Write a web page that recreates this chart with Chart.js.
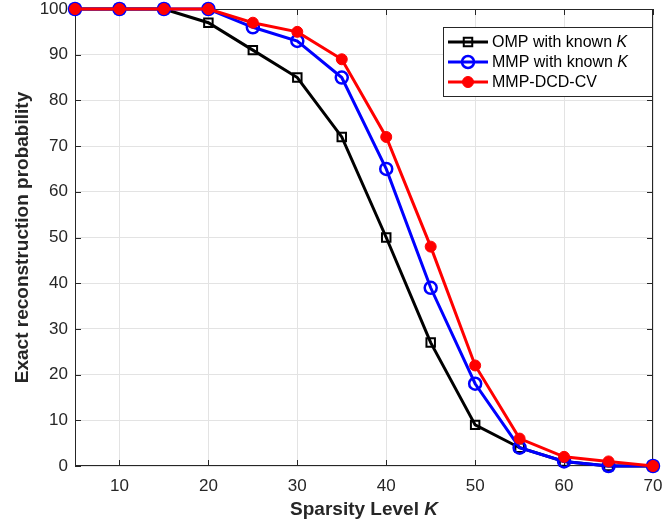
<!DOCTYPE html>
<html>
<head>
<meta charset="utf-8">
<script src="https://cdn.jsdelivr.net/npm/chart.js@4"></script>
<style>
  html, body { margin: 0; padding: 0; background: #fff; }
  #wrap { width: 664px; height: 529px; }
</style>
</head>
<body>
<div id="wrap"><canvas id="c" width="664" height="529"></canvas></div>
<script>
// Data
const sparsity = [5, 10, 15, 20, 25, 30, 35, 40, 45, 50, 55, 60, 65, 70];
const ompKnown = [100, 100, 100, 97, 91, 85, 72, 50, 27, 9, 4, 1, 0, 0];
const mmpKnown = [100, 100, 100, 100, 96, 93, 85, 65, 39, 18, 4, 1, 0, 0];
const mmpDcdCv = [100, 100, 100, 100, 97, 95, 89, 72, 48, 22, 6, 2, 1, 0];
const xTicks = [10, 20, 30, 40, 50, 60, 70];
const yTicks = [0, 10, 20, 30, 40, 50, 60, 70, 80, 90, 100];

const FONT = '"Liberation Sans", Arial, sans-serif';
const AXIS = '#262626';

const toPts = arr => arr.map((v, i) => ({ x: sparsity[i], y: v }));

// MATLAB-like box with inward ticks, drawn under the data
const boxPlugin = {
    id: 'box',
    beforeDatasetsDraw(chart) {
        const { ctx, chartArea: a, scales } = chart;
        ctx.save();
        ctx.strokeStyle = AXIS;
        ctx.lineWidth = 1;
        ctx.strokeRect(a.left + 0.5, a.top + 0.5, a.right - a.left - 1, a.bottom - a.top - 1);
        ctx.beginPath();
        const t = 6;
        xTicks.forEach(v => {
            const x = Math.round(scales.x.getPixelForValue(v)) + 0.5;
            ctx.moveTo(x, a.bottom); ctx.lineTo(x, a.bottom - t);
            ctx.moveTo(x, a.top); ctx.lineTo(x, a.top + t);
        });
        yTicks.forEach(v => {
            const y = Math.round(scales.y.getPixelForValue(v)) + 0.5;
            ctx.moveTo(a.left, y); ctx.lineTo(a.left + t, y);
            ctx.moveTo(a.right, y); ctx.lineTo(a.right - t, y);
        });
        ctx.stroke();
        ctx.restore();
    },
    afterDraw(chart) {
        const { ctx, chartArea: a } = chart;
        ctx.save();
        // x axis title with italic K
        ctx.fillStyle = AXIS;
        ctx.textBaseline = 'alphabetic';
        const main = 'Sparsity Level ';
        ctx.font = 'bold 19px ' + FONT;
        const w1 = ctx.measureText(main).width;
        ctx.font = 'bold italic 19px ' + FONT;
        const w2 = ctx.measureText('K').width;
        const cx = (a.left + a.right) / 2;
        let x0 = cx - (w1 + w2) / 2;
        ctx.font = 'bold 19px ' + FONT;
        ctx.fillText(main, x0, 515);
        ctx.font = 'bold italic 19px ' + FONT;
        ctx.fillText('K', x0 + w1, 515);

        // legend
        ctx.textBaseline = 'middle';
        const lx = 443, ly = 27, lw = 209, lh = 69;
        ctx.fillStyle = '#fff';
        ctx.fillRect(lx, ly, lw, lh);
        ctx.strokeStyle = AXIS;
        ctx.lineWidth = 1;
        ctx.strokeRect(lx + 0.5, ly + 0.5, lw, lh);
        const rows = [
            { ds: 0, parts: ['OMP with known ', 'K'], y: 42 },
            { ds: 1, parts: ['MMP with known ', 'K'], y: 62 },
            { ds: 2, parts: ['MMP-DCD-CV'], y: 82 }
        ];
        rows.forEach(r => {
            const d = chart.data.datasets[r.ds];
            ctx.strokeStyle = d.borderColor;
            ctx.lineWidth = 3;
            ctx.beginPath();
            ctx.moveTo(448, r.y); ctx.lineTo(488, r.y);
            ctx.stroke();
            ctx.lineWidth = d.pointBorderWidth;
            ctx.beginPath();
            if (d.pointStyle === 'rect') {
                const s = d.pointRadius * Math.SQRT1_2;
                ctx.rect(468 - s, r.y - s, 2 * s, 2 * s);
            } else {
                ctx.arc(468, r.y, d.pointRadius, 0, Math.PI * 2);
            }
            if (d.pointBackgroundColor !== 'transparent') {
                ctx.fillStyle = d.pointBackgroundColor;
                ctx.fill();
            }
            ctx.stroke();
            ctx.fillStyle = '#000';
            ctx.font = '16px ' + FONT;
            ctx.fillText(r.parts[0], 492, r.y + 1);
            if (r.parts[1]) {
                const w = ctx.measureText(r.parts[0]).width;
                ctx.font = 'italic 16px ' + FONT;
                ctx.fillText(r.parts[1], 492 + w, r.y + 1);
            }
        });
        ctx.restore();
    }
};

new Chart(document.getElementById('c'), {
    type: 'line',
    data: {
        datasets: [
            {
                label: 'OMP with known K',
                data: toPts(ompKnown),
                borderColor: '#000000',
                borderWidth: 3,
                pointStyle: 'rect',
                pointRadius: 6,
                pointBorderWidth: 2,
                pointBorderColor: '#000000',
                pointBackgroundColor: 'transparent',
                order: 3,
                clip: false
            },
            {
                label: 'MMP with known K',
                data: toPts(mmpKnown),
                borderColor: '#0000ff',
                borderWidth: 3,
                pointStyle: 'circle',
                pointRadius: 6,
                pointBorderWidth: 2.5,
                pointBorderColor: '#0000ff',
                pointBackgroundColor: 'transparent',
                order: 2,
                clip: false
            },
            {
                label: 'MMP-DCD-CV',
                data: toPts(mmpDcdCv),
                borderColor: '#ff0000',
                borderWidth: 3,
                pointStyle: 'circle',
                pointRadius: 5.5,
                pointBorderWidth: 1,
                pointBorderColor: '#ff0000',
                pointBackgroundColor: '#ff0000',
                order: 1,
                clip: false
            }
        ]
    },
    options: {
        responsive: false,
        animation: false,
        layout: { padding: { top: 9, right: 11, left: 0, bottom: 0 } },
        plugins: { legend: { display: false }, tooltip: { enabled: false } },
        scales: {
            x: {
                type: 'linear',
                min: 5,
                max: 70,
                afterBuildTicks: s => { s.ticks = xTicks.map(v => ({ value: v })); },
                afterFit: s => { s.height = 63; s.paddingLeft = 0; s.paddingRight = 0; },
                grid: { color: '#e3e3e3', drawTicks: false },
                border: { display: false },
                ticks: { color: AXIS, font: { family: FONT, size: 17 }, padding: 10, maxRotation: 0 }
            },
            y: {
                min: 0,
                max: 100,
                afterBuildTicks: s => { s.ticks = yTicks.map(v => ({ value: v })); },
                afterFit: s => { s.width = 75; s.paddingTop = 0; s.paddingBottom = 0; },
                grid: { color: '#e3e3e3', drawTicks: false },
                border: { display: false },
                ticks: { color: AXIS, font: { family: FONT, size: 17 }, padding: 7 },
                title: {
                    display: true,
                    text: 'Exact reconstruction probability',
                    color: AXIS,
                    font: { family: FONT, size: 19, weight: 'bold' },
                    padding: { top: 11, bottom: 4 }
                }
            }
        }
    },
    plugins: [boxPlugin]
});
</script>
</body>
</html>
